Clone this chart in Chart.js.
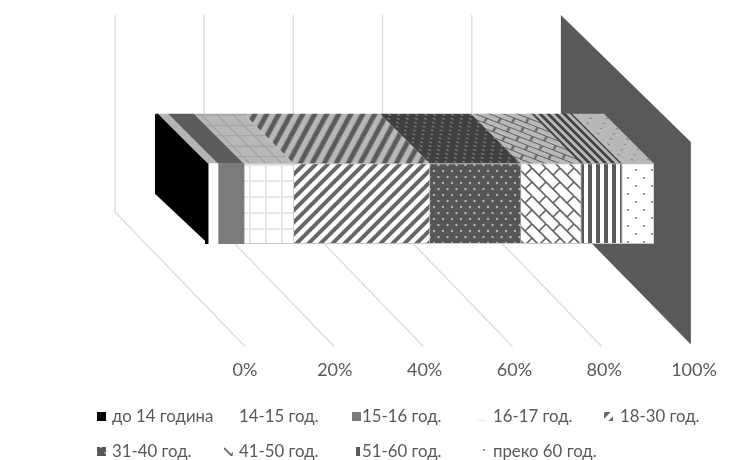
<!DOCTYPE html>
<html>
<head>
<meta charset="utf-8">
<style>
  body { margin: 0; background: #fff; }
  canvas { display: block; }
</style>
<script src="https://cdn.jsdelivr.net/npm/chart.js@4/dist/chart.umd.min.js"></script>
</head>
<body>
<canvas id="js--chart" width="739" height="460"></canvas>
<script>
const categories = [''];
const ageGroups = ['до 14 година', '14-15 год.', '15-16 год.', '16-17 год.', '18-30 год.', '31-40 год.', '41-50 год.', '51-60 год.', 'преко 60 год.'];
const shares = [0.7, 2.2, 5.8, 11.1, 30.3, 20.3, 13.4, 9.1, 7.1];
const patternNames = ['black', 'white', 'gray', 'grid', 'diagonal', 'darkDots', 'brick', 'vertical', 'dots'];

const textColor = '#595959';
const fontFamily = 'Lato, "Open Sans", sans-serif';
const depth = 50;           // how far the bar goes back
const floorDepth = 130;     // back wall to the front of the floor
const labelShift = 39;      // tick labels compared to the bar front

function tile(w, h, bg, paint) {
  const c = document.createElement('canvas');
  c.width = w;
  c.height = h;
  const t = c.getContext('2d');
  t.fillStyle = bg;
  t.fillRect(0, 0, w, h);
  paint(t);
  return c;
}

function line(t, x1, y1, x2, y2) {
  t.beginPath();
  t.moveTo(x1, y1);
  t.lineTo(x2, y2);
  t.stroke();
}

function dot(t, x, y, r) {
  t.beginPath();
  t.arc(x, y, r, 0, Math.PI * 2);
  t.fill();
}

// front: normal colours, top: the darker colours of the top of the bar
const painters = {
  black: function(top) { return tile(4, 4, '#000000', function() {}); },
  white: function(top) { return tile(4, 4, top ? '#b4b4b4' : '#ffffff', function() {}); },
  gray: function(top) { return tile(4, 4, top ? '#5c5c5c' : '#7b7b7b', function() {}); },
  grid: function(top) {
    return tile(16, 16, top ? '#b8b8b8' : '#ffffff', function(t) {
      t.strokeStyle = top ? '#a4a4a4' : '#e6e6e6';
      t.lineWidth = 2;
      line(t, 10, 0, 10, 16);
      line(t, 0, 5, 16, 5);
    });
  },
  diagonal: function(top) {
    return tile(12, 12, top ? '#b8b8b8' : '#ffffff', function(t) {
      t.strokeStyle = top ? '#5a5a5a' : '#666666';
      t.lineWidth = 4;
      line(t, -3, 3, 3, -3);
      line(t, -3, 15, 15, -3);
      line(t, 9, 15, 15, 9);
    });
  },
  darkDots: function(top) {
    return tile(9, 12, top ? '#404040' : '#565656', function(t) {
      t.fillStyle = top ? '#888888' : '#b4b4b4';
      dot(t, 2, 3, 1.2);
      dot(t, 6.5, 9, 1.2);
    });
  },
  brick: function(top) {
    return tile(28, 28, top ? '#b8b8b8' : '#ffffff', function(t) {
      t.strokeStyle = top ? '#5e5e5e' : '#666666';
      t.lineWidth = 1.7;
      for (let k = -28; k <= 28; k += 14) {
        line(t, k, 0, k + 28, 28);
      }
      for (let a = -28; a <= 28; a += 28) {
        for (let b = -28; b <= 28; b += 28) {
          line(t, a + 7, b + 7, a + 14, b);
          line(t, a + 21, b + 21, a + 28, b + 14);
          line(t, a + 21, b + 7, a + 28, b);
          line(t, a + 35, b + 21, a + 42, b + 14);
        }
      }
    });
  },
  vertical: function(top) {
    return tile(8, 8, top ? '#b8b8b8' : '#ffffff', function(t) {
      t.fillStyle = top ? '#444444' : '#595959';
      t.fillRect(4, 0, 4, 8);
    });
  },
  dots: function(top) {
    return tile(16, 16, top ? '#b8b8b8' : '#ffffff', function(t) {
      t.fillStyle = top ? '#777777' : '#8a8a8a';
      dot(t, 4, 2, 1.1);
      dot(t, 12, 10, 1.1);
    });
  }
};

const ctx = document.getElementById('js--chart').getContext('2d');

function frontPattern(i) {
  return ctx.createPattern(painters[patternNames[i]](false), 'repeat');
}

// slant the pattern so it follows the top of the bar
function topPattern(i, top) {
  const p = ctx.createPattern(painters[patternNames[i]](true), 'repeat');
  p.setTransform(new DOMMatrix([1, 0, 0.65, 0.65, 0, top]));
  return p;
}

const datasets = ageGroups.map(function(name, i) {
  return {
    label: name,
    data: [shares[i]],
    backgroundColor: frontPattern(i),
    borderColor: '#c8c8c8',
    borderWidth: i > 2 ? 1 : 0,
    barThickness: 80
  };
});

// position on the back wall for a value of the axis
function wallX(scale, value) {
  return 115 + (scale.getPixelForValue(value) - scale.getPixelForValue(0)) * 0.993;
}

const box3d = {
  id: 'box3d',
  beforeDatasetsDraw: function(chart) {
    const c = chart.ctx;
    const x = chart.scales.x;
    const wallTop = 15;
    const wallBottom = 212;
    const floorFront = chart.chartArea.bottom;

    // side wall on the right
    const last = wallX(x, 100);
    c.fillStyle = '#595959';
    c.beginPath();
    c.moveTo(last, wallTop);
    c.lineTo(last + floorDepth, wallTop + 127);
    c.lineTo(last + floorDepth, floorFront - 2);
    c.lineTo(last, wallBottom);
    c.closePath();
    c.fill();

    // back wall and floor lines
    c.strokeStyle = '#dcdcdc';
    c.lineWidth = 1.4;
    for (let v = 0; v < 100; v += 20) {
      const px = wallX(x, v);
      c.beginPath();
      c.moveTo(px, wallTop);
      c.lineTo(px, wallBottom);
      c.lineTo(px + floorDepth, floorFront);
      c.stroke();
    }

    // top of the bar
    ageGroups.forEach(function(name, i) {
      const bar = chart.getDatasetMeta(i).data[0];
      const top = bar.y - bar.height / 2;
      c.fillStyle = topPattern(i, top);
      c.beginPath();
      c.moveTo(bar.base, top);
      c.lineTo(bar.x, top);
      c.lineTo(bar.x - depth, top - depth);
      c.lineTo(bar.base - depth, top - depth);
      c.closePath();
      c.fill();
    });

    // left end of the bar
    const first = chart.getDatasetMeta(0).data[0];
    const firstTop = first.y - first.height / 2;
    c.fillStyle = '#000000';
    c.beginPath();
    c.moveTo(first.x, firstTop);
    c.lineTo(first.x, firstTop + first.height);
    c.lineTo(first.base - depth, firstTop + first.height - depth);
    c.lineTo(first.base - depth, firstTop - depth);
    c.closePath();
    c.fill();
  }
};

// five columns, two rows, same as the original legend
const legendColumns = [97, 224, 352, 477, 604];
const legendTextGap = [15, 15, 10, 16, 16];
const legendRows = [417, 452];

const columnLegend = {
  id: 'columnLegend',
  afterDraw: function(chart) {
    const c = chart.ctx;
    c.save();
    c.font = '16.8px ' + fontFamily;
    c.textBaseline = 'middle';
    ageGroups.forEach(function(name, i) {
      let column = i;
      let row = 0;
      if (i >= 5) {
        column = i - 5;
        row = 1;
      }
      const left = legendColumns[column];
      const y = legendRows[row];
      if (i !== 1) {
        c.fillStyle = chart.data.datasets[i].backgroundColor;
        c.fillRect(left, y - 5, 9, 9);
      }
      c.fillStyle = textColor;
      c.fillText(name, left + legendTextGap[column], y);
    });
    c.restore();
  }
};

const chart = new Chart(ctx, {
  type: 'bar',
  data: {
    labels: categories,
    datasets: datasets
  },
  options: {
    indexAxis: 'y',
    responsive: false,
    animation: false,
    layout: {
      padding: { left: 205, right: 85, top: 61, bottom: 74 }
    },
    plugins: {
      legend: { display: false },
      tooltip: { enabled: false }
    },
    scales: {
      x: {
        stacked: true,
        min: 0,
        max: 100,
        grid: { display: false },
        border: { display: false },
        ticks: {
          stepSize: 20,
          labelOffset: labelShift + 1,
          padding: 5,
          maxRotation: 0,
          autoSkip: false,
          color: textColor,
          font: { family: fontFamily, size: 18 },
          callback: function(value) { return value + '%'; }
        }
      },
      y: {
        stacked: true,
        display: false
      }
    }
  },
  plugins: [box3d, columnLegend]
});
</script>
</body>
</html>
